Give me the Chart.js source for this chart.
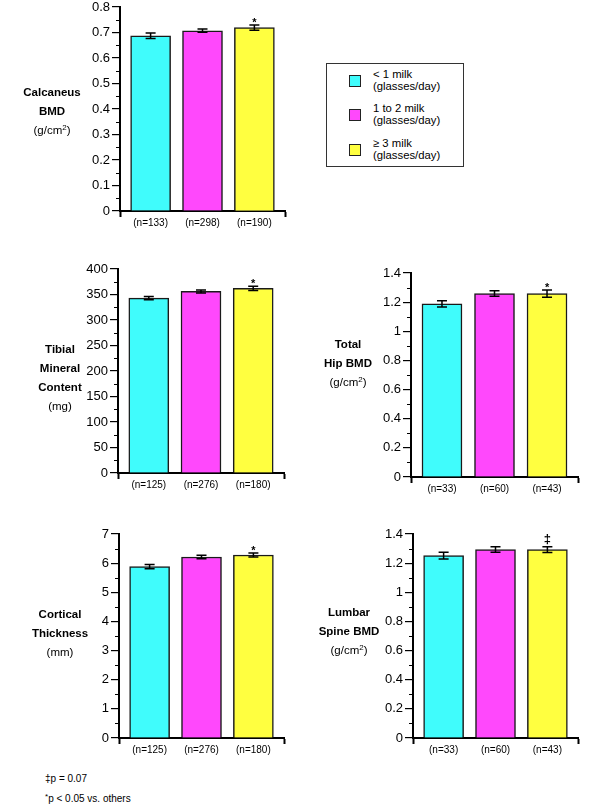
<!DOCTYPE html>
<html>
<head>
<meta charset="utf-8">
<script src="https://cdn.jsdelivr.net/npm/chart.js@4.4.1/dist/chart.umd.min.js"></script>
<style>
  body { margin: 0; background: #fff; font-family: "Liberation Sans", Arial, sans-serif; color: #000; }
  #page { position: relative; width: 600px; height: 810px; overflow: hidden; background: #fff; }
  canvas { position: absolute; }
  .ytitle { position: absolute; width: 130px; text-align: center; font-size: 11.5px; line-height: 19px; }
  .ytitle b { display: block; }
  .ytitle sup { font-size: 8px; line-height: 0; vertical-align: 4px; }
  #legend { position: absolute; left: 326px; top: 63px; width: 136px; height: 102px; border: 1.5px solid #333; }
  .item { position: absolute; left: 0; height: 24px; width: 136px; }
  .sw { position: absolute; left: 22px; top: 6px; width: 10px; height: 10px; border: 1.5px solid #222; }
  .lab { position: absolute; left: 46px; top: 0; font-size: 11.3px; line-height: 11.5px; }
  .note { position: absolute; left: 45px; font-size: 10px; }
  .note sup { font-size: 8px; vertical-align: 3px; }
</style>
</head>
<body>
<div id="page">
  <div id="legend"></div>
  <div class="note" style="top:773px">‡p = 0.07</div>
  <div class="note" style="top:792px"><sup>*</sup>p &lt; 0.05 vs. others</div>
</div>
<script>
// groups (milk intake)
const groups = ['< 1 milk', '1 to 2 milk', '≥ 3 milk'];
const groupUnit = '(glasses/day)';
const barColors = ['#40fcfc', '#ff48fc', '#ffff40'];

// Calcaneus BMD (g/cm2)
const calcN = ['(n=133)', '(n=298)', '(n=190)'];
const calcMean = [0.687, 0.707, 0.719];
const calcErr = [0.011, 0.0065, 0.0105];
const calcMarks = ['', '', '*'];
const calcTicks = [0, 0.8, 0.1];   // min, max, step

// Tibial mineral content (mg)
const tibN = ['(n=125)', '(n=276)', '(n=180)'];
const tibMean = [343, 356, 362];
const tibErr = [3.3, 3, 4];
const tibMarks = ['', '', '*'];
const tibTicks = [0, 400, 50];

// Total hip BMD (g/cm2)
const hipN = ['(n=33)', '(n=60)', '(n=43)'];
const hipMean = [1.188, 1.259, 1.259];
const hipErr = [0.022, 0.019, 0.025];
const hipMarks = ['', '', '*'];
const hipTicks = [0, 1.4, 0.2];

// Cortical thickness (mm)
const cortN = ['(n=125)', '(n=276)', '(n=180)'];
const cortMean = [5.88, 6.21, 6.28];
const cortErr = [0.074, 0.057, 0.068];
const cortMarks = ['', '', '*'];
const cortTicks = [0, 7, 1];

// Lumbar spine BMD (g/cm2)
const lumbN = ['(n=33)', '(n=60)', '(n=43)'];
const lumbMean = [1.252, 1.293, 1.293];
const lumbErr = [0.023, 0.019, 0.02];
const lumbMarks = ['', '', '‡'];
const lumbTicks = [0, 1.4, 0.2];

Chart.defaults.font.family = '"Liberation Sans", Arial, sans-serif';
Chart.defaults.color = '#000';

// --- panels: plot box (axis left, top, right, bottom) and title placement ---
const panels = [
  { box: [120, 7, 285, 211], n: calcN, mean: calcMean, err: calcErr, marks: calcMarks, ticks: calcTicks,
    title: ['Calcaneus', 'BMD'], unit: '(g/cm<sup>2</sup>)', tx: 52, ty: 83 },
  { box: [118, 269, 284, 473], n: tibN, mean: tibMean, err: tibErr, marks: tibMarks, ticks: tibTicks,
    title: ['Tibial', 'Mineral', 'Content'], unit: '(mg)', tx: 60, ty: 340 },
  { box: [411, 273, 578, 477], n: hipN, mean: hipMean, err: hipErr, marks: hipMarks, ticks: hipTicks,
    title: ['Total', 'Hip BMD'], unit: '(g/cm<sup>2</sup>)', tx: 348, ty: 335 },
  { box: [119, 534, 284, 738], n: cortN, mean: cortMean, err: cortErr, marks: cortMarks, ticks: cortTicks,
    title: ['Cortical', 'Thickness'], unit: '(mm)', tx: 60, ty: 605 },
  { box: [413, 534, 578, 738], n: lumbN, mean: lumbMean, err: lumbErr, marks: lumbMarks, ticks: lumbTicks,
    title: ['Lumbar', 'Spine BMD'], unit: '(g/cm<sup>2</sup>)', tx: 349, ty: 603 }
];

// error bars, significance marks and the short minor ticks
const extras = {
  id: 'extras',
  afterDatasetsDraw(chart) {
    const { ctx, scales: { y } } = chart;
    const ds = chart.data.datasets[0];
    const meta = chart.getDatasetMeta(0);
    ctx.save();
    ctx.strokeStyle = '#000';
    ctx.fillStyle = '#000';
    ctx.lineWidth = 1.5;
    meta.data.forEach((bar, i) => {
      const hi = y.getPixelForValue(ds.means[i] + ds.errors[i]);
      const lo = y.getPixelForValue(ds.means[i] - ds.errors[i]);
      ctx.beginPath();
      ctx.moveTo(bar.x, hi); ctx.lineTo(bar.x, lo);
      ctx.moveTo(bar.x - 5, hi); ctx.lineTo(bar.x + 5, hi);
      ctx.moveTo(bar.x - 5, lo); ctx.lineTo(bar.x + 5, lo);
      ctx.stroke();
      const mark = ds.marks[i];
      if (mark) {
        const size = mark === '‡' ? 13 : 11;
        ctx.font = 'bold ' + size + 'px "Liberation Sans", Arial, sans-serif';
        ctx.textAlign = 'center';
        ctx.textBaseline = 'alphabetic';
        const m = ctx.measureText(mark);
        ctx.fillText(mark, bar.x, hi - 2 - m.actualBoundingBoxDescent);
      }
    });
    // minor ticks halfway between the labelled ones
    const step = ds.step;
    ctx.lineWidth = 1.2;
    ctx.beginPath();
    for (let v = step / 2; v < y.max; v += step) {
      const py = Math.round(y.getPixelForValue(v)) + 0.5;
      ctx.moveTo(y.right - 4, py); ctx.lineTo(y.right, py);
    }
    ctx.stroke();
    ctx.restore();
  }
};

panels.forEach((p, k) => {
  const [left, top, right, bottom] = p.box;
  const padL = 60, padT = 10, padR = 12, padB = 26;
  const canvas = document.createElement('canvas');
  canvas.width = padL + (right - left) + padR;
  canvas.height = padT + (bottom - top) + padB;
  canvas.style.left = (left - padL) + 'px';
  canvas.style.top = (top - padT) + 'px';
  document.getElementById('page').appendChild(canvas);

  const title = document.createElement('div');
  title.className = 'ytitle';
  title.style.left = (p.tx - 65) + 'px';
  title.style.top = p.ty + 'px';
  title.innerHTML = p.title.map(t => '<b>' + t + '</b>').join('') + '<div>' + p.unit + '</div>';
  document.getElementById('page').appendChild(title);

  const [yMin, yMax, yStep] = p.ticks;
  const xMin = -0.59, xMax = 2.59;

  new Chart(canvas, {
    type: 'bar',
    data: {
      datasets: [{
        data: p.mean.map((v, i) => ({ x: i, y: v })),
        means: p.mean,
        errors: p.err,
        marks: p.marks,
        step: yStep,
        backgroundColor: barColors,
        borderColor: '#1a1a1a',
        borderWidth: 1.5,
        barThickness: 40
      }]
    },
    options: {
      responsive: false,
      animation: false,
      devicePixelRatio: 1,
      layout: { padding: { left: 0, top: padT, right: padR, bottom: 0 } },
      plugins: { legend: { display: false }, tooltip: { enabled: false } },
      scales: {
        x: {
          type: 'linear',
          offset: false,
          min: xMin,
          max: xMax,
          afterBuildTicks: s => { s.ticks = [xMin, 0, 1, 2, xMax].map(v => ({ value: v })); },
          afterFit: s => { s.height = padB; },
          border: { display: true, color: '#000', width: 2 },
          grid: {
            offset: false,
            drawOnChartArea: false,
            drawTicks: true,
            tickLength: 6,
            tickWidth: 2,
            tickColor: c => (c.index === 0 || c.index === 4) ? '#000' : 'rgba(0,0,0,0)'
          },
          ticks: {
            autoSkip: false,
            maxRotation: 0,
            padding: 0,
            font: { size: 10 },
            callback: (v, i) => (i >= 1 && i <= 3) ? p.n[i - 1] : ''
          }
        },
        y: {
          min: yMin,
          max: yMax,
          afterFit: s => { s.width = padL; },
          border: { display: true, color: '#000', width: 2 },
          grid: { drawOnChartArea: false, drawTicks: true, tickLength: 8, color: '#000', lineWidth: 1.2 },
          ticks: {
            stepSize: yStep,
            padding: 2,
            font: { size: 13 },
            callback: v => String(Math.round(v * 1000) / 1000)
          }
        }
      }
    },
    plugins: [extras]
  });
});

// --- legend box ---
const legend = document.getElementById('legend');
const itemTops = [5, 39, 74];
groups.forEach((g, i) => {
  const item = document.createElement('div');
  item.className = 'item';
  item.style.top = itemTops[i] + 'px';
  item.innerHTML = '<div class="sw" style="background:' + barColors[i] + '"></div>' +
    '<div class="lab">' + g.replace('<', '&lt;') + '<br>' + groupUnit + '</div>';
  legend.appendChild(item);
});
</script>
</body>
</html>
